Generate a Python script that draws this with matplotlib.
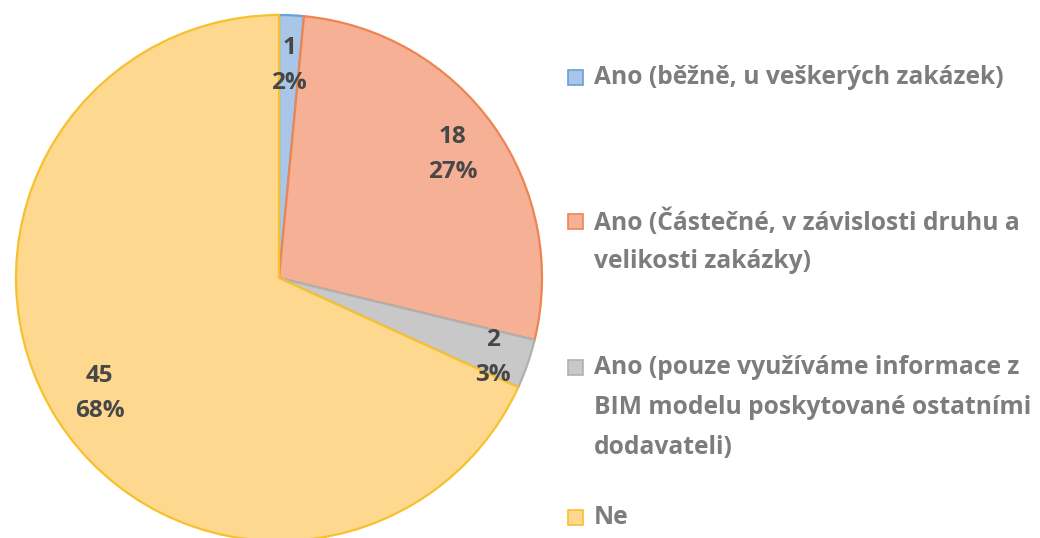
import matplotlib
matplotlib.use("Agg")
import matplotlib.pyplot as plt

# Data
labels = [
    "Ano (běžně, u veškerých zakázek)",
    "Ano (Částečné, v závislosti druhu a\nvelikosti zakázky)",
    "Ano (pouze využíváme informace z\nBIM modelu poskytované ostatními\ndodavateli)",
    "Ne",
]
counts = [1, 18, 2, 45]

fills = ["#a9c5e8", "#f5b095", "#c8c8c8", "#fdd88e"]
edges = ["#6a9fd8", "#ee8550", "#b0b0b0", "#f7c12e"]

plt.rcParams["font.family"] = ["Open Sans", "DejaVu Sans"]
plt.rcParams["font.weight"] = "bold"

fig = plt.figure(figsize=(10.4, 5.38), dpi=100)
W, H = 1040, 538
cx, cy, r = 279, 278, 263
ax = fig.add_axes([(cx - r) / W, (H - cy - r) / H, 2 * r / W, 2 * r / H])

total = sum(counts)


def fmt(pct):
    n = int(round(pct * total / 100.0))
    return "%d\n%d%%" % (n, round(pct))


wedges, texts, autotexts = ax.pie(
    counts, colors=fills, startangle=90, counterclock=False,
    autopct=fmt, pctdistance=0.81,
    wedgeprops=dict(linewidth=1.6),
    textprops=dict(fontsize=17.5, color="#474747", fontweight="bold", linespacing=1.6),
)
for w, e in zip(wedges, edges):
    w.set_edgecolor(e)
autotexts[2].set_position((0.86 * 0.945, -0.86 * 0.35))
ax.set_xlim(-1, 1)
ax.set_ylim(-1, 1)
ax.set_aspect("equal")
ax.axis("off")

# legend
entry_y = [78, 222, 368, 518]
line_h = 40
for lab, f, e, y in zip(labels, fills, edges, entry_y):
    fig.patches.append(plt.Rectangle(((568) / W, (H - y - 7) / H), 15 / W, 15 / H,
                                     facecolor=f, edgecolor=e, linewidth=1.2,
                                     transform=fig.transFigure))
    for i, line in enumerate(lab.split("\n")):
        fig.text(594 / W, (H - y - i * line_h) / H, line, fontsize=17.7,
                 color="#7d7d7d", fontweight="bold", va="center", ha="left")

fig.savefig("out.png", dpi=100)
